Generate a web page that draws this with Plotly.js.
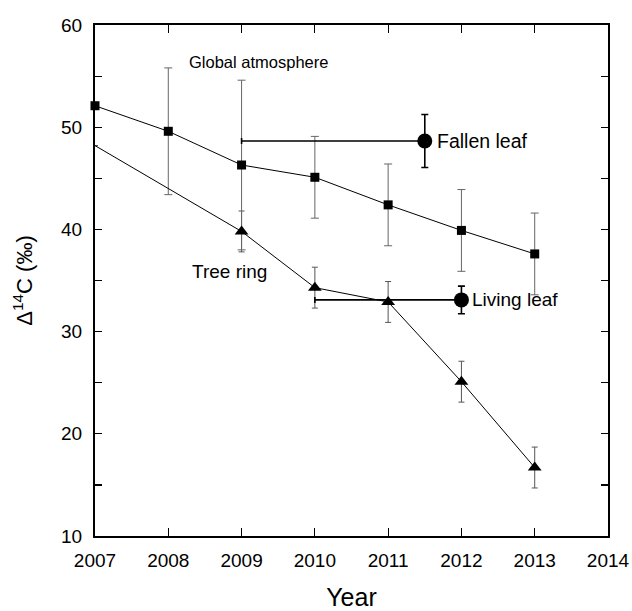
<!DOCTYPE html>
<html>
<head>
<meta charset="utf-8">
<script src="https://cdn.plot.ly/plotly-3.0.1.min.js"></script>
<style>html,body{margin:0;padding:0;background:#fff;}#chart{width:632px;height:611px;}</style>
</head>
<body>
<div id="chart"></div>
<script>
// Global atmosphere (squares)
const atmYears = [2007, 2008, 2009, 2010, 2011, 2012, 2013];
const atmValues = [52.1, 49.6, 46.3, 45.1, 42.4, 39.9, 37.6];
const atmErr = [0, 6.2, 8.3, 4.0, 4.0, 4.0, 4.0];

// Tree ring (triangles); 2007 is the line start without a marker
const treeYears = [2007, 2009, 2010, 2011, 2012, 2013];
const treeValues = [48.2, 39.8, 34.3, 32.9, 25.1, 16.7];
const treeErr = [0, 2.0, 2.0, 2.0, 2.0, 2.0];

// Leaves (circles) with horizontal span back in time
const leafNames = ["Fallen leaf", "Living leaf"];
const leafYears = [2011.5, 2012];
const leafValues = [48.65, 33.1];
const leafErrY = [2.6, 1.35];
const leafSpanBack = [2.5, 2.0];

const xTicks = [2007, 2008, 2009, 2010, 2011, 2012, 2013, 2014];
const yTicks = [10, 20, 30, 40, 50, 60];

const font = "Liberation Sans, Arial, sans-serif";

const traces = [
  // error bars first, so markers are drawn on top
  {
    x: treeYears, y: treeValues, type: "scatter", mode: "markers",
    marker: {size: 0, color: "rgba(0,0,0,0)"},
    error_y: {type: "data", array: treeErr, visible: true, color: "#555", thickness: 1, width: 3},
    cliponaxis: false, showlegend: false
  },
  {
    x: atmYears, y: atmValues, type: "scatter", mode: "markers",
    marker: {size: 0, color: "rgba(0,0,0,0)"},
    error_y: {type: "data", array: atmErr, visible: true, color: "#666", thickness: 1, width: 4},
    cliponaxis: false, showlegend: false
  },
  {
    x: leafYears, y: leafValues, type: "scatter", mode: "markers",
    marker: {size: 0, color: "rgba(0,0,0,0)"},
    error_y: {type: "data", array: leafErrY, visible: true, color: "#000", thickness: 1.6, width: 3.5},
    error_x: {type: "data", symmetric: false, array: [0, 0], arrayminus: leafSpanBack, visible: true, color: "#000", thickness: 1.6, width: 3},
    cliponaxis: false, showlegend: false
  },
  // series lines and markers
  {
    x: treeYears, y: treeValues, type: "scatter", mode: "lines+markers",
    line: {color: "#000", width: 1},
    marker: {symbol: "triangle-up", size: treeYears.map((v, i) => i === 0 ? 0 : 12), color: "#000", opacity: 1, line: {width: 0}},
    cliponaxis: false, showlegend: false
  },
  {
    x: atmYears, y: atmValues, type: "scatter", mode: "lines+markers",
    line: {color: "#000", width: 1},
    marker: {symbol: "square", size: 9, color: "#000", opacity: 1, line: {width: 0}},
    cliponaxis: false, showlegend: false
  },
  {
    x: leafYears, y: leafValues, type: "scatter", mode: "markers",
    marker: {symbol: "circle", size: 15, color: "#000", opacity: 1, line: {width: 0}},
    cliponaxis: false, showlegend: false
  }
];

const layout = {
  width: 632, height: 611,
  margin: {l: 95, r: 24, t: 25, b: 75},
  paper_bgcolor: "#fff", plot_bgcolor: "#fff",
  font: {family: font, color: "#000", size: 19},
  showlegend: false,
  xaxis: {
    range: [2007, 2014], tickvals: xTicks, ticktext: xTicks.map(String),
    ticks: "inside", ticklen: 8, tickwidth: 1.2, tickcolor: "#000",
    showline: true, linewidth: 2, linecolor: "#000", mirror: "ticks",
    showgrid: false, zeroline: false, ticklabelstandoff: 6,
    tickfont: {size: 19, family: font},
    title: {text: "Year", font: {size: 25, family: font}, standoff: 21}
  },
  yaxis: {
    range: [10, 60], tickvals: yTicks, ticktext: yTicks.map(String),
    ticks: "inside", ticklen: 7, tickwidth: 1.2, tickcolor: "#000",
    minor: {dtick: 5, ticks: "inside", ticklen: 7, tickwidth: 1.2, tickcolor: "#000", showgrid: false},
    showline: true, linewidth: 2, linecolor: "#000", mirror: "ticks",
    showgrid: false, zeroline: false, ticklabelstandoff: 7,
    tickfont: {size: 19, family: font},
    title: {text: "Δ<sup>14</sup>C (‰)", font: {size: 22, family: font}, standoff: 22}
  },
  annotations: [
    {x: 2008.25, y: 56.4, xref: "x", yref: "y", text: "Global atmosphere", showarrow: false, xanchor: "left", yanchor: "middle", font: {size: 16.5, family: font}},
    {x: leafYears[0], y: leafValues[0], xref: "x", yref: "y", text: leafNames[0], showarrow: false, xanchor: "left", yanchor: "middle", xshift: 10, font: {size: 19.5, family: font}},
    {x: leafYears[1], y: leafValues[1], xref: "x", yref: "y", text: leafNames[1], showarrow: false, xanchor: "left", yanchor: "middle", xshift: 9, font: {size: 19, family: font}},
    {x: 2008.3, y: 35.9, xref: "x", yref: "y", text: "Tree ring", showarrow: false, xanchor: "left", yanchor: "middle", font: {size: 19, family: font}}
  ]
};

Plotly.newPlot("chart", traces, layout, {displayModeBar: false, staticPlot: true});
</script>
</body>
</html>
